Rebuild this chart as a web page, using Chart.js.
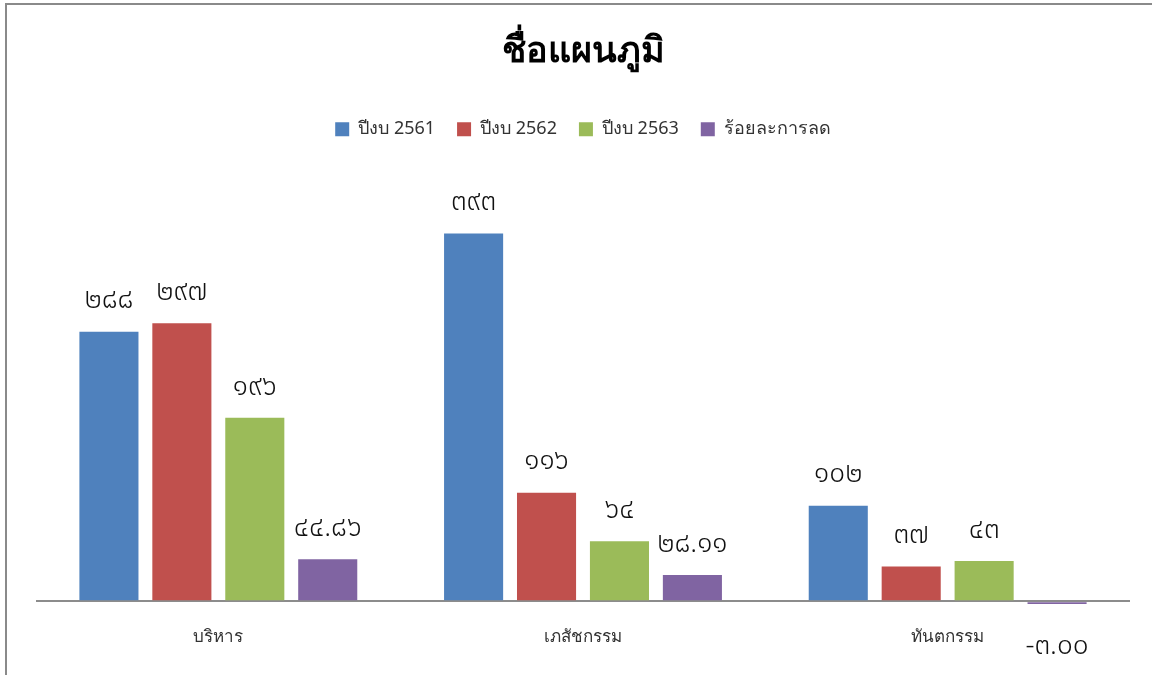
<!DOCTYPE html>
<html>
<head>
<meta charset="utf-8">
<script src="https://cdn.jsdelivr.net/npm/chart.js@4"></script>
<style>
  html, body { margin: 0; padding: 0; background: #fff; overflow: hidden; }
  #frame { position: absolute; left: 5px; top: 3px; width: 1200px; height: 720px;
           border-top: 2px solid #8a8a8a; border-left: 2px solid #8a8a8a; pointer-events: none; }
  #chart { position: absolute; left: 0; top: 0; }
</style>
</head>
<body>
<canvas id="chart" width="1152" height="675"></canvas>
<div id="frame"></div>
<script>
const categories = ["บริหาร", "เภสัชกรรม", "ทันตกรรม"];
const fy2561 = [288, 393, 102];
const fy2562 = [297, 116, 37];
const fy2563 = [196, 64, 43];
const reductionPct = [44.86, 28.11, -3.00];

const thaiDigits = "๐๑๒๓๔๕๖๗๘๙";
function toThai(v, dec) {
  return v.toFixed(dec).replace(/[0-9]/g, d => thaiDigits[+d]);
}

// extra room under the legend
const legendGap = {
  id: "legendGap",
  beforeInit(chart) {
    const fit = chart.legend.fit;
    chart.legend.fit = function () {
      fit.call(this);
      this.height += 32;
    };
  }
};

// draws the value above (or below, when negative) each bar
const barLabels = {
  id: "barLabels",
  afterDatasetsDraw(chart) {
    const ctx = chart.ctx;
    ctx.save();
    ctx.font = "300 28px 'Noto Sans Thai', 'Noto Sans', sans-serif";
    ctx.fillStyle = "#111";
    ctx.textAlign = "center";
    ctx.textBaseline = "middle";
    chart.data.datasets.forEach((ds, i) => {
      const meta = chart.getDatasetMeta(i);
      meta.data.forEach((bar, j) => {
        const v = ds.data[j];
        const txt = toThai(v, ds.decimals);
        const y = v < 0 ? bar.y + 44 : bar.y - 29;
        ctx.fillText(txt, bar.x, y);
      });
    });
    ctx.restore();
  }
};

new Chart(document.getElementById("chart"), {
  type: "bar",
  data: {
    labels: categories,
    datasets: [
      { label: "ปีงบ 2561", data: fy2561, backgroundColor: "#4f81bd", decimals: 0 },
      { label: "ปีงบ 2562", data: fy2562, backgroundColor: "#c0504d", decimals: 0 },
      { label: "ปีงบ 2563", data: fy2563, backgroundColor: "#9bbb59", decimals: 0 },
      { label: "ร้อยละการลด", data: reductionPct, backgroundColor: "#8064a2", decimals: 2 },
    ],
  },
  options: {
    responsive: false,
    animation: false,
    devicePixelRatio: 1,
    categoryPercentage: 0.8,
    barPercentage: 0.81,
    layout: { padding: { left: 36, right: 22, top: 0, bottom: 12 } },
    plugins: {
      title: {
        display: true,
        text: "ชื่อแผนภูมิ",
        color: "#000",
        font: { size: 36, weight: "bold", family: "'Noto Sans', sans-serif" },
        padding: { top: 30, bottom: 25 },
      },
      legend: {
        position: "top",
        labels: {
          color: "#333",
          boxWidth: 14,
          boxHeight: 14,
          padding: 22,
          font: { size: 18, family: "'Noto Sans', sans-serif" },
        },
      },
      tooltip: { enabled: false },
    },
    scales: {
      x: {
        grid: { display: false, drawTicks: false },
        border: { display: false },
        ticks: { color: "#333", padding: 16, font: { size: 17, family: "'Noto Sans', sans-serif" } },
      },
      y: {
        min: -10,
        max: 450,
        afterBuildTicks: s => { s.ticks = [{ value: 0 }]; },
        ticks: { display: false },
        border: { display: false },
        grid: { drawTicks: false, lineWidth: 2, color: "#8c8c8c" },
      },
    },
  },
  plugins: [legendGap, barLabels],
});
</script>
</body>
</html>
